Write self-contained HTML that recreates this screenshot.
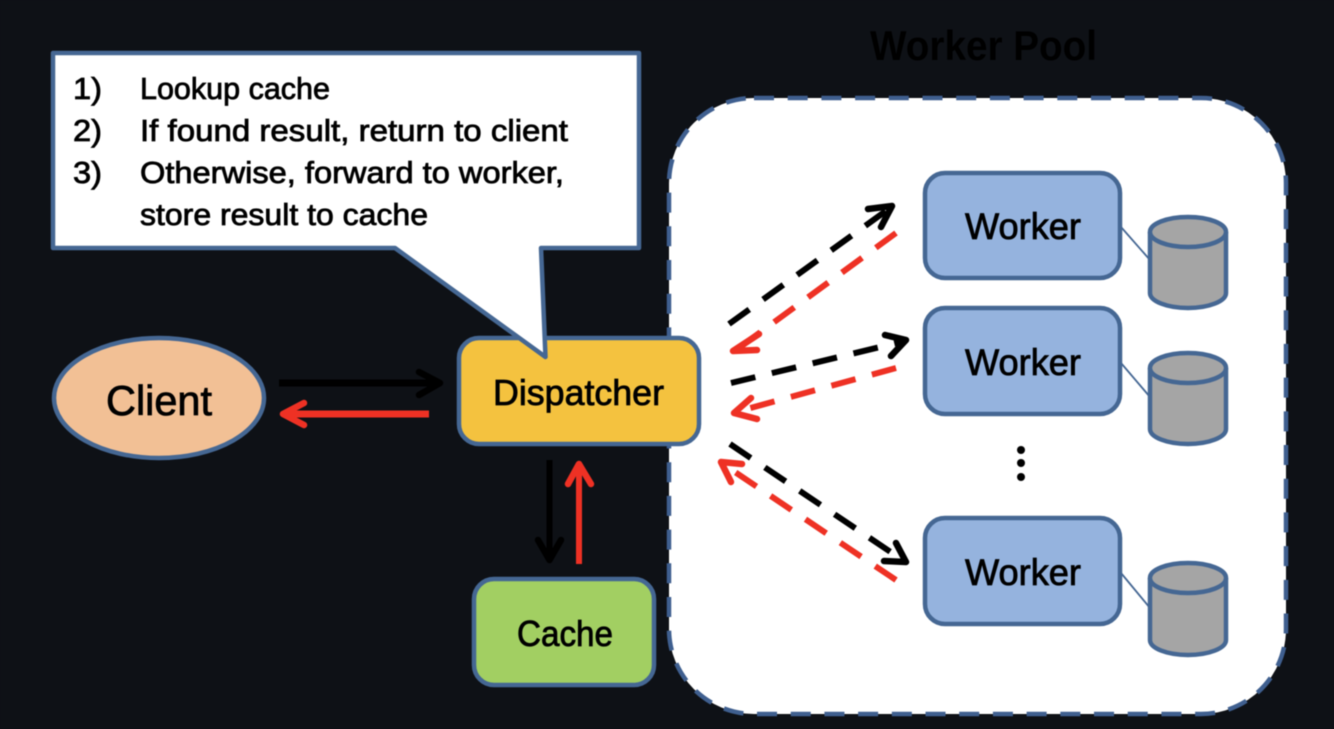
<!DOCTYPE html>
<html>
<head>
<meta charset="utf-8">
<style>
html,body{margin:0;padding:0;background:#0e1116;width:1334px;height:729px;overflow:hidden}
svg{display:block;filter:blur(0.6px)}
text{font-family:"Liberation Sans",sans-serif;fill:#000}
.t{stroke:#000;stroke-width:.8px}
.b{fill:#95b3de;stroke:#456793;stroke-width:4.5}
.c{fill:#a5a5a5;stroke:#456793;stroke-width:4.5}
.h{fill:none;stroke-width:6.5;stroke-linecap:round;stroke-linejoin:round}
.k{stroke:#000}.r{stroke:#ee3124}
.d{stroke-width:6;stroke-dasharray:25 17;fill:none}
</style>
</head>
<body>
<svg width="1334" height="729" viewBox="0 0 1334 729" xmlns="http://www.w3.org/2000/svg">
<rect width="1334" height="729" fill="#0e1116"/>

<text x="870" y="60" font-size="42" font-weight="bold" textLength="227" lengthAdjust="spacingAndGlyphs">Worker Pool</text>

<!-- Worker pool -->
<rect x="669" y="98" width="617" height="616" rx="85" ry="85" fill="#fff" stroke="#3f5f8f" stroke-width="4.5" stroke-dasharray="20 13.7"/>

<!-- Workers -->
<rect class="b" x="925" y="173" width="195" height="105" rx="20"/>
<rect class="b" x="925" y="308" width="195" height="106" rx="20"/>
<rect class="b" x="925" y="518" width="195" height="106" rx="20"/>
<text x="965" y="239" font-size="37" textLength="116" lengthAdjust="spacingAndGlyphs" class="t">Worker</text>
<text x="965" y="375" font-size="37" textLength="116" lengthAdjust="spacingAndGlyphs" class="t">Worker</text>
<text x="965" y="585" font-size="37" textLength="116" lengthAdjust="spacingAndGlyphs" class="t">Worker</text>

<!-- Links -->
<g stroke="#456793" stroke-width="1.8">
<line x1="1121" y1="227" x2="1150" y2="260"/>
<line x1="1121" y1="363" x2="1150" y2="397"/>
<line x1="1121" y1="573" x2="1150" y2="608"/>
</g>

<!-- Cylinders -->
<g>
<path class="c" d="M1150 232V293A38 15 0 0 0 1226 293V232"/>
<ellipse class="c" cx="1188" cy="232" rx="38" ry="15"/>
<path class="c" d="M1150 368V429A38 15 0 0 0 1226 429V368"/>
<ellipse class="c" cx="1188" cy="368" rx="38" ry="15"/>
<path class="c" d="M1150 578V640A38 15 0 0 0 1226 640V578"/>
<ellipse class="c" cx="1188" cy="578" rx="38" ry="15"/>
</g>

<!-- Dots -->
<circle cx="1021" cy="450" r="4" fill="#000"/>
<circle cx="1021" cy="463" r="4" fill="#000"/>
<circle cx="1021" cy="477" r="4" fill="#000"/>

<!-- Dashed arrows -->
<line class="d k" x1="729" y1="324" x2="890" y2="208"/>
<polyline class="h k" points="868,209 892,206 881,227"/>
<line class="d r" x1="896" y1="233" x2="736" y2="350"/>
<polyline class="h r" points="759,334 733,351 757,350"/>

<line class="d k" x1="731" y1="383" x2="905" y2="341"/>
<polyline class="h k" points="885,335 906,340 891,356"/>
<line class="d r" x1="896" y1="368" x2="736" y2="412"/>
<polyline class="h r" points="751,398 734,413 757,419"/>

<line class="d k" x1="730" y1="444" x2="904" y2="561"/>
<polyline class="h k" points="896,543 906,562 884,561"/>
<line class="d r" x1="896" y1="580" x2="723" y2="464"/>
<polyline class="h r" points="742,464 721,462 731,482"/>

<!-- Client -->
<ellipse cx="159" cy="398" rx="105" ry="60" fill="#f2c095" stroke="#456793" stroke-width="4.5"/>
<text x="106" y="415" font-size="42" textLength="106" lengthAdjust="spacingAndGlyphs" class="t">Client</text>

<!-- Dispatcher -->
<rect x="459" y="338" width="240" height="106" rx="20" fill="#f4c23f" stroke="#456793" stroke-width="4.5"/>
<text x="493" y="405" font-size="36" textLength="171" lengthAdjust="spacingAndGlyphs" class="t">Dispatcher</text>

<!-- Cache -->
<rect x="474" y="579" width="180" height="106" rx="20" fill="#a2cf62" stroke="#456793" stroke-width="4.5"/>
<text x="517" y="646" font-size="36" textLength="96" lengthAdjust="spacingAndGlyphs" class="t">Cache</text>

<!-- Solid arrows -->
<line x1="279" y1="383" x2="438" y2="383" stroke="#000" stroke-width="7"/>
<polyline class="h k" points="419,372 440,383 419,395"/>
<line x1="429" y1="414" x2="285" y2="414" stroke="#ee3124" stroke-width="7"/>
<polyline class="h r" points="304,403 283,414 304,425"/>
<line x1="549.5" y1="460" x2="549.5" y2="559" stroke="#000" stroke-width="6"/>
<polyline class="h k" points="538,540 549.5,560 561,540"/>
<line x1="579" y1="564" x2="579" y2="465" stroke="#ee3124" stroke-width="6"/>
<polyline class="h r" points="568,484 579,464 591,484"/>

<!-- Callout -->
<path d="M53 53H639V248H541L545.5 357L395 248H53Z" fill="#fff" stroke="#456793" stroke-width="4.5" stroke-linejoin="round"/>
<g font-size="31" class="t">
<text x="73" y="99" textLength="29" lengthAdjust="spacingAndGlyphs">1)</text>
<text x="73" y="141" textLength="29" lengthAdjust="spacingAndGlyphs">2)</text>
<text x="73" y="183" textLength="29" lengthAdjust="spacingAndGlyphs">3)</text>
<text x="140" y="99" textLength="190" lengthAdjust="spacingAndGlyphs">Lookup cache</text>
<text x="140" y="141" textLength="428" lengthAdjust="spacingAndGlyphs">If found result, return to client</text>
<text x="140" y="183" textLength="424" lengthAdjust="spacingAndGlyphs">Otherwise, forward to worker,</text>
<text x="140" y="225" textLength="288" lengthAdjust="spacingAndGlyphs">store result to cache</text>
</g>
</svg>
</body>
</html>
